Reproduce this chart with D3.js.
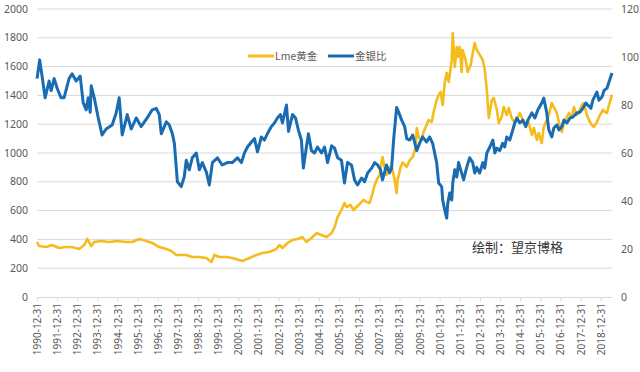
<!DOCTYPE html>
<html>
<head>
<meta charset="utf-8">
<script src="https://cdn.jsdelivr.net/npm/d3@7"></script>
<style>
  html, body { margin: 0; padding: 0; background: #fff; }
  svg { display: block; font-family: "Noto Sans", "Noto Sans CJK SC", sans-serif; }
</style>
</head>
<body>
<div id="app"></div>
<script>
// 数据：[年份(小数), 数值]
const goldPrice = [
  [1991.00, 382], [1991.10, 354], [1991.45, 347], [1991.75, 361], [1992.09, 340], [1992.44, 347],
  [1992.74, 347], [1993.09, 333], [1993.34, 361], [1993.49, 403], [1993.69, 354], [1993.84, 382],
  [1994.18, 389], [1994.58, 382], [1994.98, 389], [1995.43, 382], [1995.73, 382], [1996.07, 403],
  [1996.42, 389], [1996.72, 375], [1997.07, 347], [1997.42, 333], [1997.67, 319], [1997.92, 292],
  [1998.16, 292], [1998.41, 292], [1998.71, 278], [1999.06, 278], [1999.41, 271], [1999.66, 243],
  [1999.81, 292], [2000.05, 278], [2000.40, 278], [2000.70, 271], [2001.20, 250], [2001.55, 271],
  [2001.90, 292], [2002.19, 306], [2002.54, 313], [2002.89, 333], [2003.04, 361], [2003.19, 340],
  [2003.44, 375], [2003.69, 396], [2003.94, 403], [2004.18, 417], [2004.38, 382], [2004.63, 410],
  [2004.88, 444], [2005.13, 431], [2005.38, 417], [2005.63, 444], [2005.78, 486], [2005.93, 556],
  [2006.12, 604], [2006.27, 653], [2006.37, 625], [2006.57, 639], [2006.72, 604], [2006.87, 625],
  [2007.07, 653], [2007.22, 674], [2007.37, 660], [2007.52, 653], [2007.67, 722], [2007.77, 778],
  [2007.87, 813], [2008.01, 847], [2008.16, 972], [2008.26, 903], [2008.36, 847], [2008.51, 903],
  [2008.66, 882], [2008.76, 813], [2008.86, 722], [2008.91, 813], [2009.06, 903], [2009.16, 935],
  [2009.36, 903], [2009.51, 951], [2009.66, 972], [2009.81, 1042], [2009.86, 1174], [2009.95, 1111],
  [2010.10, 1090], [2010.20, 1146], [2010.35, 1194], [2010.45, 1229], [2010.60, 1215], [2010.70, 1285],
  [2010.85, 1368], [2010.95, 1403], [2011.05, 1424], [2011.15, 1333], [2011.25, 1486], [2011.35, 1556],
  [2011.45, 1493], [2011.60, 1646], [2011.65, 1833], [2011.75, 1597], [2011.85, 1736], [2011.90, 1667],
  [2012.00, 1736], [2012.09, 1563], [2012.14, 1715], [2012.29, 1646], [2012.39, 1563], [2012.54, 1611],
  [2012.64, 1694], [2012.74, 1764], [2012.84, 1715], [2012.99, 1681], [2013.14, 1646], [2013.24, 1576],
  [2013.34, 1438], [2013.44, 1243], [2013.59, 1368], [2013.69, 1382], [2013.84, 1299], [2013.93, 1208],
  [2014.08, 1250], [2014.18, 1319], [2014.33, 1264], [2014.43, 1312], [2014.58, 1243], [2014.73, 1208],
  [2014.83, 1229], [2014.98, 1278], [2015.13, 1229], [2015.23, 1194], [2015.38, 1229], [2015.58, 1125],
  [2015.68, 1174], [2015.83, 1090], [2015.92, 1139], [2016.07, 1069], [2016.17, 1181], [2016.32, 1229],
  [2016.42, 1264], [2016.57, 1347], [2016.67, 1319], [2016.82, 1278], [2016.92, 1215], [2017.07, 1146],
  [2017.17, 1208], [2017.32, 1250], [2017.42, 1278], [2017.57, 1250], [2017.67, 1319], [2017.81, 1264],
  [2017.91, 1285], [2018.06, 1333], [2018.16, 1347], [2018.31, 1264], [2018.41, 1229], [2018.56, 1194],
  [2018.66, 1181], [2018.81, 1215], [2018.96, 1264], [2019.11, 1299], [2019.21, 1285], [2019.31, 1278],
  [2019.41, 1333], [2019.56, 1403]
];

const goldSilverRatio = [
  [1991.00, 91], [1991.13, 98.8], [1991.25, 92], [1991.40, 83], [1991.60, 90], [1991.70, 86],
  [1991.85, 91], [1992.00, 87], [1992.19, 83], [1992.34, 83], [1992.59, 91], [1992.74, 93],
  [1992.94, 90], [1993.14, 92], [1993.29, 81], [1993.44, 78], [1993.54, 83], [1993.64, 77],
  [1993.69, 88], [1993.84, 83], [1994.03, 75], [1994.23, 67.5], [1994.43, 70], [1994.73, 71.7],
  [1994.93, 76.7], [1995.08, 83], [1995.23, 67.5], [1995.48, 76], [1995.68, 70], [1995.93, 74.6],
  [1996.17, 71], [1996.47, 74.6], [1996.72, 78], [1996.92, 78.6], [1997.07, 76], [1997.17, 68],
  [1997.42, 73], [1997.57, 71.7], [1997.72, 68], [1997.82, 64], [1997.97, 48], [1998.16, 46],
  [1998.31, 50], [1998.41, 57], [1998.56, 53], [1998.71, 58], [1998.91, 60], [1999.06, 53],
  [1999.21, 56], [1999.41, 52], [1999.56, 46.7], [1999.71, 56], [1999.96, 58], [2000.20, 55],
  [2000.45, 56], [2000.70, 56], [2000.95, 58], [2001.15, 56], [2001.30, 60], [2001.45, 62.5],
  [2001.65, 64.6], [2001.80, 66], [2001.95, 60.5], [2002.14, 66.7], [2002.29, 65.4], [2002.44, 68],
  [2002.64, 71], [2002.79, 72.5], [2002.94, 74.6], [2003.09, 76], [2003.19, 72.5], [2003.39, 80],
  [2003.49, 69], [2003.69, 76], [2003.84, 74.6], [2003.98, 69.6], [2004.13, 65.4], [2004.23, 53.7],
  [2004.38, 62.5], [2004.48, 68], [2004.63, 61], [2004.78, 60], [2004.93, 62.5], [2005.13, 60],
  [2005.28, 62.5], [2005.43, 56], [2005.63, 63], [2005.78, 62], [2005.93, 58], [2006.12, 57],
  [2006.27, 47.5], [2006.42, 56], [2006.62, 55], [2006.77, 48.8], [2006.92, 46.7], [2007.12, 49.6],
  [2007.27, 48], [2007.42, 51.7], [2007.62, 53.7], [2007.77, 56], [2007.92, 55], [2008.06, 53],
  [2008.16, 48.8], [2008.36, 55], [2008.51, 51.7], [2008.61, 53.7], [2008.71, 65.4], [2008.86, 79],
  [2008.96, 77], [2009.11, 73.7], [2009.26, 71], [2009.36, 66], [2009.51, 65.4], [2009.66, 67.5],
  [2009.86, 61], [2010.00, 64], [2010.15, 66.7], [2010.35, 64.6], [2010.50, 66.7], [2010.65, 64],
  [2010.85, 56], [2010.95, 47.5], [2011.10, 46], [2011.15, 40.4], [2011.25, 36.3], [2011.35, 32.9],
  [2011.40, 39], [2011.50, 43.3], [2011.60, 40.4], [2011.65, 47.5], [2011.75, 53], [2011.85, 50],
  [2011.94, 56], [2012.09, 51.7], [2012.19, 48.8], [2012.34, 54], [2012.49, 58], [2012.64, 56],
  [2012.74, 51.7], [2012.84, 54], [2012.99, 51.7], [2013.14, 56], [2013.24, 53.7], [2013.34, 60],
  [2013.49, 62.5], [2013.64, 65.4], [2013.74, 60], [2013.84, 62], [2013.98, 61], [2014.13, 64],
  [2014.23, 62.5], [2014.33, 66.7], [2014.48, 65.4], [2014.63, 69.6], [2014.73, 72.5], [2014.83, 74.6],
  [2014.98, 72.5], [2015.13, 73.7], [2015.28, 71], [2015.38, 73.7], [2015.58, 76.7], [2015.73, 74.6],
  [2015.88, 78], [2016.07, 80.8], [2016.17, 82.9], [2016.32, 76.7], [2016.42, 69.6], [2016.57, 66.7],
  [2016.67, 70.4], [2016.82, 71.7], [2016.92, 69.6], [2017.07, 71], [2017.17, 73.7], [2017.32, 72.5],
  [2017.47, 74.6], [2017.62, 75], [2017.81, 76.7], [2017.96, 77], [2018.11, 78.6], [2018.26, 80.8],
  [2018.36, 80], [2018.51, 78.6], [2018.61, 82], [2018.81, 85.4], [2018.91, 82], [2019.06, 83.3],
  [2019.16, 86], [2019.31, 87], [2019.41, 89.6], [2019.56, 93.3]
];

const tickYears = d3.range(1990, 2019);           // 1990-12-31 ... 2018-12-31
const leftTicks = [0, 200, 400, 600, 800, 1000, 1200, 1400, 1600, 1800, 2000];
const rightTicks = [0, 20, 40, 60, 80, 100, 120];
const seriesNames = ["Lme黄金", "金银比"];
const seriesColors = ["#f4bc1c", "#1a6cb2"];

const width = 640, height = 372;
const plotLeft = 37, plotRight = 612, plotTop = 9, plotBottom = 297;

// 小数年份转日期
function toDate(t) {
  const y = Math.floor(t);
  const a = new Date(y, 0, 1), b = new Date(y + 1, 0, 1);
  return new Date(+a + (t - y) * (b - a));
}

const svg = d3.select("#app").append("svg")
  .attr("width", width)
  .attr("height", height);

const x = d3.scaleTime()
  .domain([new Date(1990, 11, 31), toDate(2019.56)])
  .range([plotLeft, plotRight]);

const yL = d3.scaleLinear().domain([0, 2000]).range([plotBottom, plotTop]);
const yR = d3.scaleLinear().domain([0, 120]).range([plotBottom, plotTop]);

// 网格线
svg.append("g")
  .selectAll("line")
  .data(leftTicks.slice(1))
  .join("line")
  .attr("x1", plotLeft).attr("x2", plotRight)
  .attr("y1", d => yL(d)).attr("y2", d => yL(d))
  .attr("stroke", "#d9d9d9")
  .attr("stroke-width", 1);

// 左轴
svg.append("g")
  .selectAll("text")
  .data(leftTicks)
  .join("text")
  .attr("x", 28)
  .attr("y", d => yL(d))
  .attr("dy", "0.35em")
  .attr("text-anchor", "end")
  .attr("font-size", 10.5)
  .attr("fill", "#595959")
  .text(d => d);

// 右轴
svg.append("g")
  .selectAll("text")
  .data(rightTicks)
  .join("text")
  .attr("x", 621)
  .attr("y", d => yR(d))
  .attr("dy", "0.35em")
  .attr("text-anchor", "start")
  .attr("font-size", 10.5)
  .attr("fill", "#595959")
  .text(d => d);

// X 轴
const xAxis = d3.axisBottom(x)
  .tickValues(tickYears.map(yr => new Date(yr, 11, 31)))
  .tickFormat(d3.timeFormat("%Y-%m-%d"))
  .tickSize(4)
  .tickSizeOuter(0);

const gx = svg.append("g")
  .attr("transform", `translate(0,${plotBottom})`)
  .call(xAxis);

gx.select(".domain").attr("stroke", "#d9d9d9");
gx.selectAll(".tick line").attr("stroke", "#d9d9d9");
gx.selectAll(".tick text")
  .attr("font-family", "'Noto Sans', sans-serif")
  .attr("font-size", 10)
  .attr("fill", "#595959")
  .attr("transform", "rotate(-90)")
  .attr("text-anchor", "end")
  .attr("x", -6)
  .attr("y", 0)
  .attr("dy", "0.35em");

// 折线
const lineL = d3.line().x(d => x(toDate(d[0]))).y(d => yL(d[1]));
const lineR = d3.line().x(d => x(toDate(d[0]))).y(d => yR(d[1]));

svg.append("path")
  .datum(goldPrice)
  .attr("fill", "none")
  .attr("stroke", seriesColors[0])
  .attr("stroke-width", 2.6)
  .attr("stroke-linejoin", "round")
  .attr("d", lineL);

svg.append("path")
  .datum(goldSilverRatio)
  .attr("fill", "none")
  .attr("stroke", seriesColors[1])
  .attr("stroke-width", 3)
  .attr("stroke-linejoin", "round")
  .attr("d", lineR);

// 图例
const legend = svg.append("g").attr("transform", "translate(248,56)");
const legendX = [0, 80];
seriesNames.forEach((name, i) => {
  const g = legend.append("g").attr("transform", `translate(${legendX[i]},0)`);
  g.append("line")
    .attr("x1", 0).attr("x2", 26)
    .attr("stroke", seriesColors[i])
    .attr("stroke-width", 3);
  g.append("text")
    .attr("x", 27)
    .attr("dy", "0.35em")
    .attr("font-family", "'Noto Sans CJK SC', sans-serif")
    .attr("font-size", 10.5)
    .attr("fill", "#595959")
    .text(name);
});

// 注释
svg.append("text")
  .attr("x", 472)
  .attr("y", 252)
  .attr("font-family", "'Noto Sans CJK SC', sans-serif")
  .attr("font-size", 13)
  .attr("fill", "#333")
  .text("绘制：望京博格");
</script>
</body>
</html>
